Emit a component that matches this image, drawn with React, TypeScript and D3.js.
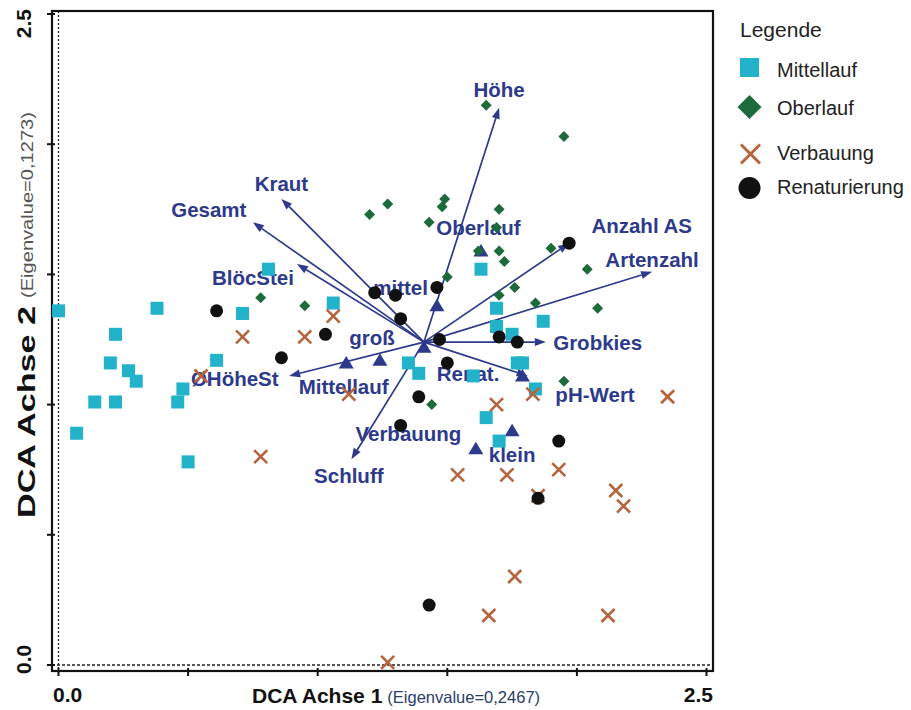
import React from "react";
import * as d3 from "d3";

// ---- data (DCA ordination scores) ----
const mittellauf: [number, number][] = [
  [0.0, 1.36], [0.38, 1.37], [0.22, 1.27], [0.2, 1.16], [0.27, 1.13], [0.3, 1.09],
  [0.14, 1.01], [0.22, 1.01], [0.07, 0.89], [0.48, 1.06], [0.46, 1.01], [0.5, 0.78],
  [0.61, 1.17], [0.71, 1.35], [0.81, 1.52], [1.06, 1.39], [1.63, 1.52], [1.69, 1.37],
  [1.87, 1.32], [1.69, 1.3], [1.75, 1.27], [1.77, 1.16], [1.79, 1.16], [1.35, 1.16],
  [1.39, 1.12], [1.6, 1.11], [1.65, 0.95], [1.7, 0.86], [1.84, 1.06],
];
const oberlauf: [number, number][] = [
  [1.65, 2.15], [1.95, 2.03], [1.49, 1.79], [1.48, 1.76], [1.7, 1.75], [1.43, 1.7],
  [1.69, 1.68], [1.62, 1.59], [1.7, 1.59], [1.72, 1.55], [1.9, 1.6], [2.04, 1.52],
  [1.5, 1.49], [1.2, 1.73], [1.27, 1.77], [1.76, 1.45], [1.7, 1.42], [1.84, 1.39],
  [2.08, 1.37], [0.95, 1.38], [1.44, 1.0], [1.95, 1.09], [0.78, 1.41],
];
const verbauung: [number, number][] = [
  [0.71, 1.26], [0.95, 1.26], [1.06, 1.34], [0.55, 1.11], [0.78, 0.8], [1.12, 1.04],
  [1.69, 1.0], [1.83, 1.04], [2.35, 1.03], [1.54, 0.73], [1.73, 0.73], [1.93, 0.75],
  [1.85, 0.65], [2.15, 0.67], [2.18, 0.61], [1.76, 0.34], [1.66, 0.19], [2.12, 0.19],
  [1.27, 0.01],
];
const renaturierung: [number, number][] = [
  [0.61, 1.36], [1.03, 1.27], [0.86, 1.18], [1.22, 1.43], [1.3, 1.42], [1.46, 1.45],
  [1.32, 1.33], [1.47, 1.25], [1.5, 1.16], [1.7, 1.26], [1.77, 1.24], [1.97, 1.62],
  [1.39, 1.03], [1.32, 0.92], [1.93, 0.86], [1.85, 0.64], [1.43, 0.23],
];

// environmental variable arrows: origin and tips
const arrowOrigin: [number, number] = [1.41, 1.24];
const arrowNames = ["Höhe", "Kraut", "Gesamt", "BlöcStei", "ØHöheSt", "Schluff", "Grobkies", "pH-Wert", "Anzahl AS", "Artenzahl"];
const arrowTips: [number, number][] = [
  [1.7, 2.14], [0.86, 1.79], [0.75, 1.7], [0.92, 1.54], [0.89, 1.11], [1.13, 0.79],
  [1.88, 1.24], [1.81, 1.11], [1.97, 1.62], [2.29, 1.51],
];
const arrowLabelAt: [number, number][] = [
  [1.7, 2.18], [0.86, 1.82], [0.58, 1.72], [0.75, 1.46], [0.68, 1.07], [1.12, 0.7],
  [2.08, 1.21], [2.07, 1.01], [2.25, 1.66], [2.29, 1.53],
];

// nominal variables (centroids)
const centroids: [number, number][] = [
  [1.63, 1.59], [1.46, 1.38], [1.41, 1.22], [1.24, 1.17], [1.11, 1.16], [1.79, 1.11],
  [1.75, 0.9], [1.61, 0.83],
];
const centroidNames = ["Oberlauf", "mittel", "groß", "Mittellauf", "Renat.", "Verbauung", "klein"];
const centroidLabelAt: [number, number][] = [
  [1.62, 1.65], [1.32, 1.42], [1.21, 1.23], [1.1, 1.04], [1.58, 1.09], [1.35, 0.86], [1.75, 0.78],
];

const axisTicks = [0, 0.5, 1, 1.5, 2, 2.5];
const legendItems = ["Mittellauf", "Oberlauf", "Verbauung", "Renaturierung"];

// ---- style ----
const CYAN = "#22b2c9";
const GREEN = "#1d6b3b";
const BROWN = "#b4653e";
const BLACK = "#111111";
const NAVY = "#2d3a8c";
const FONT = "'Liberation Sans', Arial, sans-serif";

export default function App() {
  const W = 911, H = 710;
  const frame = { l: 52, r: 713, t: 11, b: 671 };
  const x = d3.scaleLinear().domain([0, 2.5]).range([58.5, 706.5]);
  const y = d3.scaleLinear().domain([0, 2.5]).range([665, 14]);

  const sq = 13;
  const diamond = (cx: number, cy: number, h: number) =>
    `M${cx},${cy - h}L${cx + h},${cy}L${cx},${cy + h}L${cx - h},${cy}Z`;
  const tri = (cx: number, cy: number) =>
    `M${cx},${cy - 7}L${cx + 7.5},${cy + 5.5}L${cx - 7.5},${cy + 5.5}Z`;
  const cross = (cx: number, cy: number, h: number, sw: number, key: string) => (
    <g key={key} stroke={BROWN} strokeWidth={sw} strokeLinecap="butt">
      <line x1={cx - h} y1={cy - h} x2={cx + h} y2={cy + h} />
      <line x1={cx - h} y1={cy + h} x2={cx + h} y2={cy - h} />
    </g>
  );

  const ox = x(arrowOrigin[0]), oy = y(arrowOrigin[1]);

  return (
    <div style={{ position: "absolute", left: 0, top: 0 }}>
      <svg width={W} height={H} style={{ display: "block", background: "#fff" }}>
        {/* zero lines */}
        <line x1={x(0)} x2={x(0)} y1={frame.t} y2={frame.b} stroke="#222" strokeWidth={1.3} strokeDasharray="2,2" />
        <line x1={frame.l} x2={frame.r} y1={y(0)} y2={y(0)} stroke="#222" strokeWidth={1.3} strokeDasharray="3,2" />
        {/* frame */}
        <rect x={frame.l} y={frame.t} width={frame.r - frame.l} height={frame.b - frame.t} fill="none" stroke="#111" strokeWidth={2.2} />
        {/* ticks */}
        {axisTicks.map((t) => (
          <line key={"yt" + t} x1={frame.l - 5} x2={frame.l + 3} y1={y(t)} y2={y(t)} stroke="#111" strokeWidth={2} />
        ))}
        {axisTicks.map((t) => (
          <line key={"xt" + t} x1={x(t)} x2={x(t)} y1={frame.b - 3} y2={frame.b + 5} stroke="#111" strokeWidth={2} />
        ))}
        {/* tick labels */}
        <text x={frame.l + 1} y={702} fontFamily={FONT} fontWeight="bold" fontSize={21} fill="#111">0.0</text>
        <text x={frame.r} y={702} textAnchor="end" fontFamily={FONT} fontWeight="bold" fontSize={21} fill="#111">2.5</text>
        <text transform={`translate(31,${frame.t - 2}) rotate(-90)`} textAnchor="end" fontFamily={FONT} fontWeight="bold" fontSize={21} fill="#111">2.5</text>
        <text transform={`translate(31,${frame.b + 3}) rotate(-90)`} textAnchor="start" fontFamily={FONT} fontWeight="bold" fontSize={21} fill="#111">0.0</text>
        {/* axis titles */}
        <text x={252} y={703} fontFamily={FONT} fill="#111">
          <tspan fontWeight="bold" fontSize={21}>DCA Achse 1</tspan>
          <tspan fontSize={16.5} fill="#2a3d6a" dx={5}>(Eigenvalue=0,2467)</tspan>
        </text>
        <text transform={`translate(35,518) rotate(-90)`} fontFamily={FONT} fontWeight="bold" fontSize={23}
          fill="#111" textLength={212} lengthAdjust="spacingAndGlyphs">DCA Achse 2</text>
        <text transform={`translate(33,298) rotate(-90)`} fontFamily={FONT} fontSize={16.5}
          fill="#555" textLength={186} lengthAdjust="spacingAndGlyphs">(Eigenvalue=0,1273)</text>

        {/* arrows */}
        {arrowTips.map((tp, i) => {
          const tx = x(tp[0]), ty = y(tp[1]);
          const ang = Math.atan2(ty - oy, tx - ox);
          const L = 11, Wd = 4;
          const bx = tx - L * Math.cos(ang), by = ty - L * Math.sin(ang);
          const px = -Math.sin(ang) * Wd, py = Math.cos(ang) * Wd;
          return (
            <g key={"ar" + i}>
              <line x1={ox} y1={oy} x2={bx} y2={by} stroke={NAVY} strokeWidth={1.7} />
              <path d={`M${tx},${ty}L${bx + px},${by + py}L${bx - px},${by - py}Z`} fill={NAVY} />
            </g>
          );
        })}
        {arrowNames.map((n, i) => (
          <text key={"al" + i} x={x(arrowLabelAt[i][0])} y={y(arrowLabelAt[i][1])} textAnchor="middle"
            fontFamily={FONT} fontWeight="bold" fontSize={20.5} fill={NAVY}>{n}</text>
        ))}
        {centroidNames.map((n, i) => (
          <text key={"cl" + i} x={x(centroidLabelAt[i][0])} y={y(centroidLabelAt[i][1])} textAnchor="middle"
            fontFamily={FONT} fontWeight="bold" fontSize={20.5} fill={NAVY}>{n}</text>
        ))}
        {centroids.map((c, i) => (
          <path key={"ct" + i} d={tri(x(c[0]), y(c[1]))} fill={NAVY} />
        ))}

        {/* samples */}
        {mittellauf.map((d, i) => (
          <rect key={"m" + i} x={x(d[0]) - sq / 2} y={y(d[1]) - sq / 2} width={sq} height={sq} fill={CYAN} />
        ))}
        {oberlauf.map((d, i) => (
          <path key={"o" + i} d={diamond(x(d[0]), y(d[1]), 5.5)} fill={GREEN} />
        ))}
        {verbauung.map((d, i) => cross(x(d[0]), y(d[1]), 6.5, 2.6, "v" + i))}
        {renaturierung.map((d, i) => (
          <circle key={"r" + i} cx={x(d[0])} cy={y(d[1])} r={6.5} fill={BLACK} />
        ))}

        {/* legend */}
        <text x={740} y={37} fontFamily={FONT} fontSize={21} fill="#222">Legende</text>
        <rect x={740} y={58} width={19} height={19} fill={CYAN} />
        <path d={diamond(749.5, 107, 12)} fill={GREEN} />
        {cross(750.5, 154, 9.5, 3, "lg")}
        <circle cx={749.5} cy={188} r={11} fill={BLACK} />
        {legendItems.map((n, i) => (
          <text key={"lt" + i} x={777} y={[77, 115, 160, 194][i]} fontFamily={FONT} fontSize={20} fill="#222">{n}</text>
        ))}
      </svg>
    </div>
  );
}
